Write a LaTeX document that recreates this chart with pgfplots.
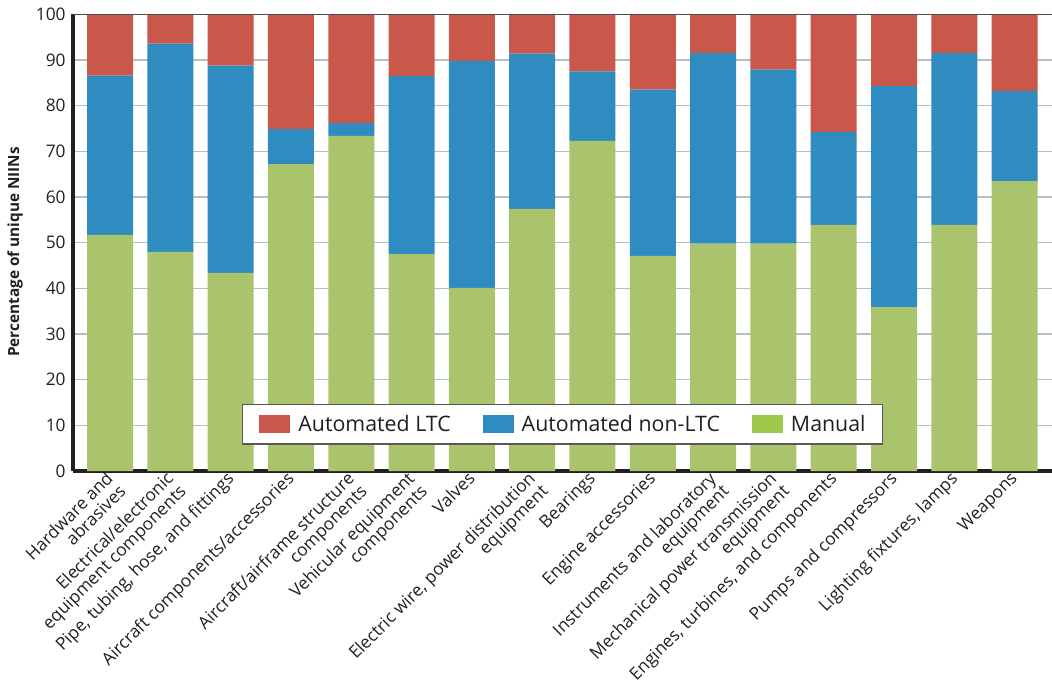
\documentclass[border=0pt]{standalone}
\usepackage{pgfplots}
\pgfplotsset{compat=1.18}
\usepackage{pgfplotstable}
\usepackage{fontspec}
\setmainfont{Open Sans}

\definecolor{ltc}{HTML}{C9574A}
\definecolor{nonltc}{HTML}{2E8CC0}
\definecolor{manual}{HTML}{AAC46D}
\definecolor{manualkey}{HTML}{A0C84C}
\definecolor{gridc}{HTML}{B5BFC6}
\definecolor{ink}{HTML}{231F20}

% shares of unique NIINs by group (percent)
\pgfplotstableread{
x manual nonltc ltc
0  51.7 34.9 13.4
1  48.0 45.6  6.4
2  43.4 45.4 11.2
3  67.2  7.7 25.1
4  73.4  2.8 23.8
5  47.5 39.0 13.5
6  40.1 49.7 10.2
7  57.4 34.0  8.6
8  72.3 15.2 12.5
9  47.1 36.4 16.5
10 49.8 41.7  8.5
11 49.8 38.1 12.1
12 53.9 20.3 25.8
13 35.9 48.4 15.7
14 53.9 37.6  8.5
15 63.5 19.7 16.8
}\niins

\begin{document}
\begin{tikzpicture}
\path[use as bounding box] (-54.75pt,-162.75pt) rectangle (734.25pt,353.25pt);
\begin{axis}[
  scale only axis,
  width=734.25pt, height=342.45pt,
  ybar stacked,
  bar width=34.5pt,
  xmin=-0.614, xmax=15.62,
  ymin=0, ymax=100,
  xtick=data,
  xticklabels={
    {Hardware and\\abrasives},
    {Electrical/electronic\\equipment components},
    {Pipe, tubing, hose, and fittings},
    {Aircraft components/accessories},
    {Aircraft/airframe structure\\components},
    {Vehicular equipment\\components},
    {Valves},
    {Electric wire, power distribution\\equipment},
    {Bearings},
    {Engine accessories},
    {Instruments and laboratory\\equipment},
    {Mechanical power transmission\\equipment},
    {Engines, turbines, and components},
    {Pumps and compressors},
    {Lighting fixtures, lamps},
    {Weapons}},
  ytick={0,10,...,100},
  axis x line*=bottom,
  axis y line*=left,
  axis line style={ink, line width=2.3pt},
  major tick length=0pt,
  ymajorgrids,
  grid style={gridc, line width=1.1pt},
  tick label style={ink, font=\fontsize{13}{14}\selectfont},
  yticklabel style={xshift=-2pt},
  xticklabel style={xshift=-4pt, yshift=2pt, rotate=45, anchor=north east,
    align=right, font=\fontsize{13}{13.5}\selectfont, inner sep=1pt},
  /pgf/number format/assume math mode=true,
  ylabel={\bfseries Percentage of unique NIINs},
  ylabel style={ink, font=\fontsize{11.5}{12}\selectfont,
    at={(axis description cs:-0.0592,0.48)}, anchor=center},
  legend columns=3,
  legend style={at={(0.5,0.102)}, anchor=center, draw=ink!75,
    line width=1.1pt, fill=white, inner xsep=12.75pt, inner ysep=6pt,
    font=\fontsize{16}{17}\selectfont, text=ink,
    nodes={inner xsep=0pt},
    /tikz/every odd column/.append style={column sep=6pt},
    /tikz/every even column/.append style={column sep=24pt}},
  legend image code/.code={\fill[#1] (0pt,-6.75pt) rectangle (23.25pt,6.75pt);},
  after end axis/.code={\draw[ink!80, line width=1.1pt]
    (rel axis cs:0,1) -- (rel axis cs:1,1);},
]
\addlegendimage{fill=ltc, draw=none}
\addlegendentry{Automated LTC}
\addlegendimage{fill=nonltc, draw=none}
\addlegendentry{Automated non-LTC}
\addlegendimage{fill=manualkey, draw=none}
\addlegendentry{Manual}
\addplot[fill=manual, draw=none, forget plot] table[x=x, y=manual] {\niins};
\addplot[fill=nonltc, draw=none, forget plot] table[x=x, y=nonltc] {\niins};
\addplot[fill=ltc, draw=none, forget plot] table[x=x, y=ltc] {\niins};
\end{axis}
\end{tikzpicture}
\end{document}
